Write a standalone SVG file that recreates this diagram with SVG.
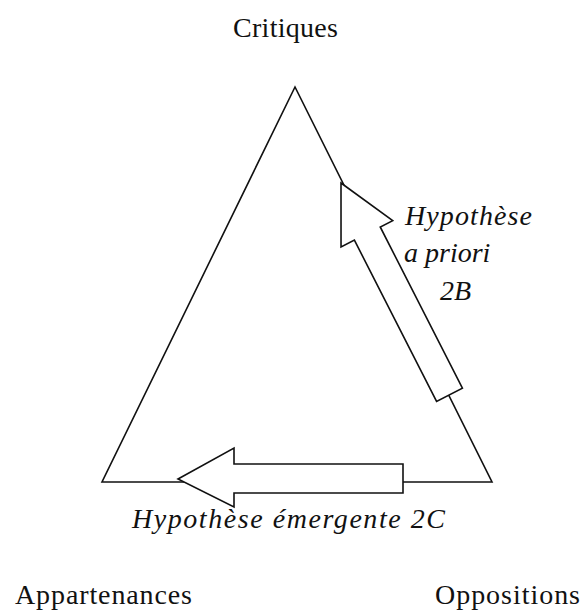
<svg xmlns="http://www.w3.org/2000/svg" width="581" height="610" viewBox="0 0 581 610">
<style>
.lbl{font-family:"Liberation Serif","Times New Roman",serif;font-size:28px;fill:#111}
.it{font-family:"Liberation Serif","Times New Roman",serif;font-size:28px;font-style:italic;fill:#111}
.edge{fill:none;stroke:#111;stroke-width:1.6;stroke-linejoin:miter}
.arrow{fill:#fff;stroke:#111;stroke-width:1.6;stroke-linejoin:miter}
</style>
<rect width="581" height="610" fill="#fff"/>
<g id="connectors">
<polygon id="triangle" class="edge" points="295,87 102,482 492,482"/>
<g id="arrow-2B" transform="translate(341,183) rotate(63)">
<polygon class="arrow" points="0,0 57,-29 57,-15 238,-15 238,14 57,14 57,29"/>
</g>
<g id="arrow-2C" transform="translate(178,479)">
<polygon class="arrow" points="0,0 56,-31 56,-15 225,-15 225,14 56,14 56,28"/>
</g>
</g>
<g id="node-critiques"><text class="lbl" x="233" y="37" textLength="105">Critiques</text></g>
<g id="node-appartenances"><text class="lbl" x="15" y="604" textLength="177">Appartenances</text></g>
<g id="node-oppositions"><text class="lbl" x="435" y="604" textLength="145">Oppositions</text></g>
<g id="label-2B">
<text class="it" x="405" y="225" textLength="127">Hypothèse</text>
<text class="it" x="404" y="262">a priori</text>
<text class="it" x="440" y="300">2B</text>
</g>
<g id="label-2C"><text class="it" x="132" y="528" textLength="313">Hypothèse émergente 2C</text></g>
</svg>
